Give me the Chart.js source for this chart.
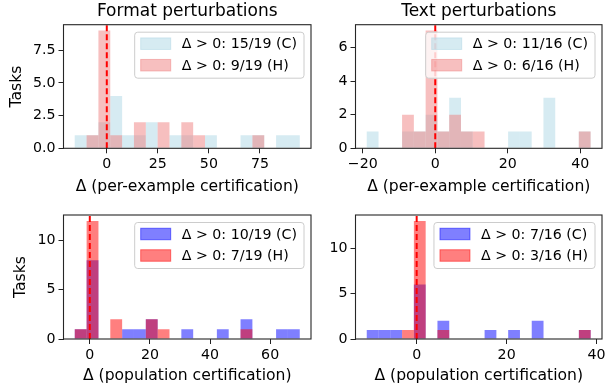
<!DOCTYPE html>
<html>
<head>
<meta charset="utf-8">
<script src="https://cdn.jsdelivr.net/npm/chart.js@4.4.0/dist/chart.umd.min.js"></script>
<style>
html, body { margin: 0; padding: 0; background: #fff; }
#wrap { position: relative; width: 605px; height: 389px; }
canvas { position: absolute; }
</style>
</head>
<body>
<div id="wrap">
  <canvas id="tl" width="330" height="200" style="left:0;top:0"></canvas>
  <canvas id="tr" width="275" height="200" style="left:330px;top:0"></canvas>
  <canvas id="bl" width="330" height="189" style="left:0;top:200px"></canvas>
  <canvas id="br" width="275" height="189" style="left:330px;top:200px"></canvas>
</div>
<script>
// column titles and axis labels
const titles = ['Format perturbations', 'Text perturbations'];
const xLabels = ['Δ (per-example certification)', 'Δ (population certification)'];
const zeroLine = 0;

// Format / per-example (bin centres, counts)
const binsTL = [-12.8, -7.0, -1.2, 4.6, 10.4, 16.2, 22.0, 27.8, 33.6, 39.4, 45.2, 51.0, 56.8, 62.6, 68.4, 74.2, 80.0, 85.8, 91.6];
const cTL = [1, 1, 2, 4, 1, 1, 2, 0, 1, 1, 0, 1, 0, 0, 1, 1, 0, 1, 1];
const hTL = [0, 1, 9, 1, 0, 2, 0, 2, 0, 2, 1, 0, 0, 0, 0, 1, 0, 0, 0];
const legendTL = ['Δ > 0: 15/19 (C)', 'Δ > 0: 9/19 (H)'];
const xTicksTL = [0, 25, 50, 75];
const yTicksTL = [0, 2.5, 5, 7.5];

// Text / per-example
const binsTR = [-17.275, -14.025, -10.775, -7.525, -4.275, -1.025, 2.225, 5.475, 8.725, 11.975, 15.225, 18.475, 21.725, 24.975, 28.225, 31.475, 34.725, 37.975, 41.225];
const cTR = [1, 0, 0, 1, 1, 2, 1, 3, 1, 0, 0, 0, 1, 1, 0, 3, 0, 0, 1];
const hTR = [0, 0, 0, 2, 1, 7, 1, 2, 1, 1, 0, 0, 0, 0, 0, 0, 0, 0, 1];
const legendTR = ['Δ > 0: 11/16 (C)', 'Δ > 0: 6/16 (H)'];
const xTicksTR = [-20, 0, 20, 40];
const yTicksTR = [0, 2, 4, 6];

// Format / population
const binsBL = [-3.03, 0.91, 4.85, 8.79, 12.73, 16.67, 20.61, 24.55, 28.49, 32.43, 36.37, 40.31, 44.25, 48.19, 52.13, 56.07, 60.01, 63.95, 67.89];
const cBL = [1, 8, 0, 0, 1, 1, 2, 0, 0, 1, 0, 0, 1, 0, 2, 0, 0, 1, 1];
const hBL = [1, 12, 0, 2, 0, 0, 2, 1, 0, 0, 0, 0, 0, 0, 1, 0, 0, 0, 0];
const legendBL = ['Δ > 0: 10/19 (C)', 'Δ > 0: 7/19 (H)'];
const xTicksBL = [0, 20, 40, 60];
const yTicksBL = [0, 5, 10];

// Text / population
const binsBR = [-9.79, -7.17, -4.55, -1.93, 0.69, 3.31, 5.93, 8.55, 11.17, 13.79, 16.41, 19.03, 21.65, 24.27, 26.89, 29.51, 32.13, 34.75, 37.37];
const cBR = [1, 1, 1, 0, 6, 0, 2, 0, 0, 0, 1, 0, 1, 0, 2, 0, 0, 0, 1];
const hBR = [0, 0, 0, 1, 13, 0, 1, 0, 0, 0, 0, 0, 0, 0, 0, 0, 0, 0, 1];
const legendBR = ['Δ > 0: 7/16 (C)', 'Δ > 0: 3/16 (H)'];
const xTicksBR = [0, 20, 40];
const yTicksBR = [0, 5, 10];

Chart.defaults.font.family = "'DejaVu Sans', sans-serif";
Chart.defaults.color = '#000';

const fmt = v => v < 0 ? '\u2212' + Math.abs(v) : String(v);

// spines, column title and an inside legend box
const frame = {
    id: 'frame',
    afterDatasetsDraw(chart) {
        const a = chart.chartArea, ctx = chart.ctx;
        ctx.save();
        ctx.strokeStyle = '#262626';
        ctx.lineWidth = 1.1;
        ctx.strokeRect(a.left, a.top, a.right - a.left, a.bottom - a.top);
        ctx.restore();
    },
    afterDraw(chart, args, o) {
        const a = chart.chartArea, ctx = chart.ctx;
        ctx.save();
        if (o.title) {
            ctx.font = "17px 'DejaVu Sans'";
            ctx.fillStyle = '#000';
            ctx.textAlign = 'center';
            ctx.textBaseline = 'middle';
            ctx.fillText(o.title, (a.left + a.right) / 2, 12);
        }
        const sets = chart.data.datasets.filter(d => d.type !== 'line');
        ctx.font = "14.2px 'DejaVu Sans'";
        const tw = Math.max(...sets.map(d => ctx.measureText(d.label).width));
        const w = 6 + 30 + 11 + tw + 7, h = 46;
        const x = a.right - 7 - w, y = a.top + 7.5;
        ctx.beginPath();
        ctx.roundRect(x, y, w, h, 3);
        ctx.fillStyle = 'rgba(255,255,255,0.8)';
        ctx.fill();
        ctx.strokeStyle = '#cccccc';
        ctx.lineWidth = 1;
        ctx.stroke();
        sets.forEach((d, i) => {
            const cy = y + 11.5 + i * 21.5;
            ctx.fillStyle = d.backgroundColor;
            ctx.fillRect(x + 6, cy - 5.75, 30, 11.5);
            ctx.strokeStyle = d.backgroundColor;
            ctx.strokeRect(x + 6, cy - 5.75, 30, 11.5);
            ctx.fillStyle = '#000';
            ctx.textAlign = 'left';
            ctx.textBaseline = 'middle';
            ctx.fillText(d.label, x + 47, cy + 1);
        });
        ctx.restore();
    }
};

const barOpts = { grouped: false, barPercentage: 1, categoryPercentage: 1, borderWidth: 0, inflateAmount: 0 };

function panel(id, p) {
    const pts = arr => p.bins.map((b, i) => ({ x: b, y: arr[i] }));
    return new Chart(document.getElementById(id), {
        type: 'bar',
        data: {
            datasets: [
                Object.assign({ label: p.legend[0], data: pts(p.c), backgroundColor: p.colors[0], order: 1 }, barOpts),
                Object.assign({ label: p.legend[1], data: pts(p.h), backgroundColor: p.colors[1], order: 0 }, barOpts),
                {
                    type: 'line', label: 'zero',
                    data: [{ x: zeroLine, y: 0 }, { x: zeroLine, y: p.yMax }],
                    borderColor: '#ff0000', borderWidth: 2, borderDash: [6, 3],
                    pointRadius: 0, order: -1
                }
            ]
        },
        options: {
            responsive: false,
            animation: false,
            layout: { padding: { top: p.top, right: p.right, bottom: 0, left: 0 } },
            plugins: {
                legend: { display: false },
                tooltip: { enabled: false },
                frame: { title: p.title }
            },
            scales: {
                x: {
                    type: 'linear', min: p.xMin, max: p.xMax, offset: false,
                    afterBuildTicks: s => { s.ticks = p.xTicks.map(v => ({ value: v })); },
                    afterFit: s => { s.height = p.xH; s.paddingLeft = 0; s.paddingRight = 0; },
                    ticks: { font: { size: 14.2 }, color: '#000', padding: 3, maxRotation: 0, autoSkip: false, callback: fmt },
                    grid: { offset: false, drawOnChartArea: false, drawTicks: true, tickLength: 5, color: '#222', lineWidth: 1 },
                    border: { display: false },
                    title: { display: true, text: p.xLabel, font: { size: 15.6 }, color: '#000', padding: { top: 0, bottom: 3.6 } }
                },
                y: {
                    min: 0, max: p.yMax,
                    afterBuildTicks: s => { s.ticks = p.yTicks.map(v => ({ value: v })); },
                    afterFit: s => { s.width = p.yW; s.paddingTop = 0; s.paddingBottom = 0; },
                    ticks: { font: { size: 14.2 }, color: '#000', padding: 3, autoSkip: false, callback: p.yFmt || fmt },
                    grid: { drawOnChartArea: false, drawTicks: true, tickLength: 5, color: '#222', lineWidth: 1 },
                    border: { display: false },
                    title: { display: !!p.yTitle, text: 'Tasks', font: { size: 15.6 }, color: '#000', padding: { top: p.yTitlePad || 0, bottom: 0 } }
                }
            }
        },
        plugins: [frame]
    });
}

const lightCols = ['rgba(173,216,230,0.5)', 'rgba(240,128,128,0.5)'];
const strongCols = ['rgba(0,0,255,0.5)', 'rgba(255,0,0,0.5)'];

panel('tl', {
    bins: binsTL, c: cTL, h: hTL, legend: legendTL, colors: lightCols, title: titles[0], xLabel: xLabels[0],
    xMin: -21.2, xMax: 100, yMax: 9.45, xTicks: xTicksTL, yTicks: yTicksTL, yFmt: v => v.toFixed(1),
    top: 24.7, right: 19, yW: 63.5, xH: 51.7, yTitle: true, yTitlePad: 7.6
});
panel('tr', {
    bins: binsTR, c: cTR, h: hTR, legend: legendTR, colors: lightCols, title: titles[1], xLabel: xLabels[0],
    xMin: -22, xMax: 46, yMax: 7.35, xTicks: xTicksTR, yTicks: yTicksTR,
    top: 24.7, right: 3, yW: 25.5, xH: 51.7
});
panel('bl', {
    bins: binsBL, c: cBL, h: hBL, legend: legendBL, colors: strongCols, xLabel: xLabels[1],
    xMin: -8.75, xMax: 73.6, yMax: 12.6, xTicks: xTicksBL, yTicks: yTicksBL,
    top: 15, right: 19, yW: 63.5, xH: 50, yTitle: true, yTitlePad: 12
});
panel('br', {
    bins: binsBR, c: cBR, h: hBR, legend: legendBR, colors: strongCols, xLabel: xLabels[1],
    xMin: -13.6, xMax: 41.2, yMax: 13.65, xTicks: xTicksBR, yTicks: yTicksBR,
    top: 15, right: 3, yW: 25.5, xH: 50
});
</script>
</body>
</html>
